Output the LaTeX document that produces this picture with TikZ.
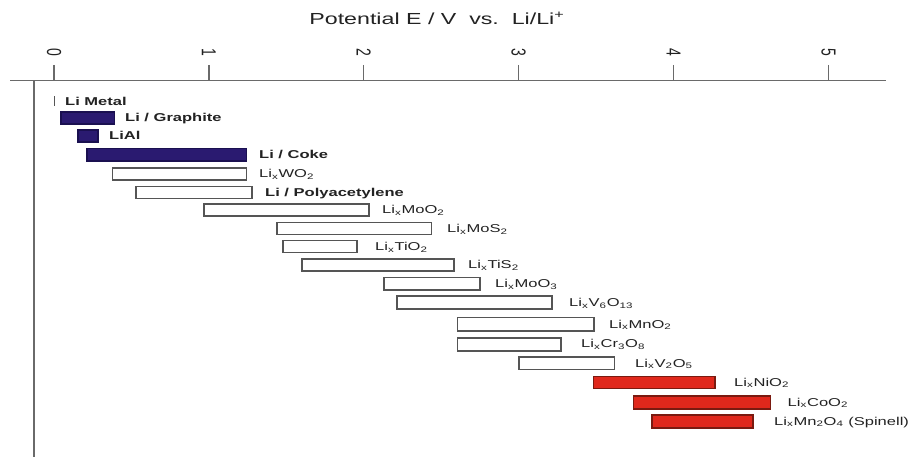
\documentclass[tikz,border=0pt]{standalone}
\usepackage{fontspec}
\setmainfont{Liberation Sans}
\definecolor{navy}{HTML}{2A1A70}
\definecolor{navyedge}{HTML}{1A1050}
\definecolor{redfill}{HTML}{E0281C}
\definecolor{rededge}{HTML}{7A1A10}
\definecolor{axisgray}{HTML}{6A6A6A}
\definecolor{boxgray}{HTML}{555555}
\definecolor{txt}{HTML}{222222}
\newcommand{\sx}[1]{\scalebox{1.45}[1]{#1}}
\newcommand{\barbox}[6]{\node[#2, minimum width={#5-#3}, minimum height={#6-#4}, anchor=north west] (#1) at (#3,#4) {};}
\newcommand{\ticklab}[3]{\node[ticklabel] (#1) at (#2,52) {\sx{\rotatebox{-90}{#3}}};}
\tikzset{
  barbase/.style={rectangle, inner sep=0pt, outer sep=0pt, line width=1.1pt},
  darkbar/.style={barbase, draw=navyedge, fill=navy},
  whitebar/.style={barbase, draw=boxgray, fill=white},
  redbar/.style={barbase, draw=rededge, fill=redfill},
  lab/.style={inner sep=0pt, anchor=base west, text=txt, font=\fontsize{11.4}{13}\selectfont},
  blab/.style={lab, font=\fontsize{11.4}{13}\selectfont\bfseries},
  ticklabel/.style={inner sep=0pt, text=txt, font=\fontsize{14}{16}\selectfont},
  axisline/.style={draw=axisgray, line width=1.2pt},
}
\begin{document}
\begin{tikzpicture}[x=1pt,y=-1pt]
\useasboundingbox (0,0) rectangle (911,457);
% title
\node[inner sep=0pt, text=txt, font=\fontsize{16}{18}\selectfont] (title) at (437,18) {\sx{Potential E / V\ \ vs.\ \ Li/Li\textsuperscript{+}}};
% axes
\coordinate (hl) at (10,80.7);
\coordinate (hr) at (886,80.7);
\coordinate (vt) at (34,80.7);
\coordinate (vb) at (34,457);
\draw[axisline] (hl) -- (hr);
\draw[axisline] (vt) -- (vb);
% ticks
\foreach \i/\xx in {0/54,1/208.9,2/363.8,3/518.7,4/673.6,5/828.5}{
  \draw[axisline] (\xx,65) -- (\xx,80.7);
}
\ticklab{t0}{54}{0}
\ticklab{t1}{208.9}{1}
\ticklab{t2}{363.8}{2}
\ticklab{t3}{518.7}{3}
\ticklab{t4}{673.6}{4}
\ticklab{t5}{828.5}{5}
% Li metal
\coordinate (m1) at (54,96.5);
\coordinate (m2) at (54,106.5);
\draw[draw=boxgray, line width=1pt] (m1) -- (m2);
\node[blab] (l1) at (65,105.5) {\sx{Li Metal}};
% bars
\barbox{b2}{darkbar}{61}{112}{114.3}{124}
\node[blab] (l2) at (125,122) {\sx{Li / Graphite}};
\barbox{b3}{darkbar}{78}{130}{98}{142}
\node[blab] (l3) at (109,140) {\sx{LiAl}};
\barbox{b4}{darkbar}{87}{148.5}{246.5}{161}
\node[blab] (l4) at (259,159) {\sx{Li / Coke}};
\barbox{b5}{whitebar}{112.7}{168}{246.7}{180}
\node[lab] (l5) at (259,178) {\sx{Li\textsubscript{x}WO\textsubscript{2}}};
\barbox{b6}{whitebar}{136}{186.5}{252}{198.3}
\node[blab] (l6) at (265,196.5) {\sx{Li / Polyacetylene}};
\barbox{b7}{whitebar}{204}{204}{369}{216}
\node[lab] (l7) at (382,214) {\sx{Li\textsubscript{x}MoO\textsubscript{2}}};
\barbox{b8}{whitebar}{277}{222.7}{431.7}{234.3}
\node[lab] (l8) at (447,232.5) {\sx{Li\textsubscript{x}MoS\textsubscript{2}}};
\barbox{b9}{whitebar}{283}{240.7}{357}{252.7}
\node[lab] (l9) at (375,251) {\sx{Li\textsubscript{x}TiO\textsubscript{2}}};
\barbox{b10}{whitebar}{302}{259}{454}{271}
\node[lab] (l10) at (468,269) {\sx{Li\textsubscript{x}TiS\textsubscript{2}}};
\barbox{b11}{whitebar}{384}{277.5}{480}{290}
\node[lab] (l11) at (495,288) {\sx{Li\textsubscript{x}MoO\textsubscript{3}}};
\barbox{b12}{whitebar}{397}{296}{552}{309}
\node[lab] (l12) at (569,307) {\sx{Li\textsubscript{x}V\textsubscript{6}O\textsubscript{13}}};
\barbox{b13}{whitebar}{457.5}{317.5}{594}{331}
\node[lab] (l13) at (609,328) {\sx{Li\textsubscript{x}MnO\textsubscript{2}}};
\barbox{b14}{whitebar}{457.5}{338}{561}{351}
\node[lab] (l14) at (581,348) {\sx{Li\textsubscript{x}Cr\textsubscript{3}O\textsubscript{8}}};
\barbox{b15}{whitebar}{519}{357}{614.7}{369.7}
\node[lab] (l15) at (635,367) {\sx{Li\textsubscript{x}V\textsubscript{2}O\textsubscript{5}}};
\barbox{b16}{redbar}{593.6}{376.5}{715}{388.4}
\node[lab] (l16) at (734,386) {\sx{Li\textsubscript{x}NiO\textsubscript{2}}};
\barbox{b17}{redbar}{633.4}{396}{770.5}{409}
\node[lab] (l17) at (787.5,406) {\sx{Li\textsubscript{x}CoO\textsubscript{2}}};
\barbox{b18}{redbar}{652}{415}{753}{428}
\node[lab] (l18) at (774,425) {\sx{Li\textsubscript{x}Mn\textsubscript{2}O\textsubscript{4} (Spinell)}};
\end{tikzpicture}
\end{document}
